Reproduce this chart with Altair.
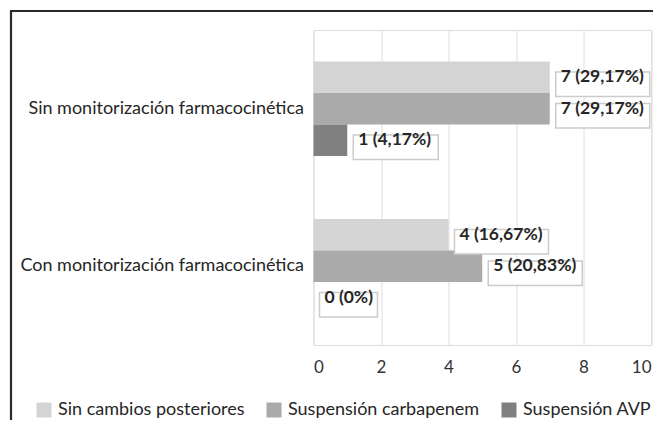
import altair as alt
import pandas as pd

categories = ["Sin monitorización farmacocinética", "Con monitorización farmacocinética"]
series = ["Sin cambios posteriores", "Suspensión carbapenem", "Suspensión AVP"]
values_sin = [7, 7, 1]
values_con = [4, 5, 0]
labels_sin = ["7 (29,17%)", "7 (29,17%)", "1 (4,17%)"]
labels_con = ["4 (16,67%)", "5 (20,83%)", "0 (0%)"]
colors = ["#d4d4d4", "#aaaaaa", "#808080"]
x_ticks = [0, 2, 4, 6, 8, 10]

rows = []
for cat, vals, labs in [(categories[0], values_sin, labels_sin), (categories[1], values_con, labels_con)]:
    for s, v, l in zip(series, vals, labs):
        rows.append({"grupo": cat, "serie": s, "valor": v, "etiqueta": l})
df = pd.DataFrame(rows)

W, H = 337.5, 315
PAD_L, PAD_T = 305.5, 22
TOTAL_W, TOTAL_H = 645, 412
PX_PER_UNIT = W / 10

xscale = alt.Scale(domain=[0, 10], nice=False, zero=True)

y_enc = alt.Y("grupo:N", sort=categories, title=None,
              scale=alt.Scale(paddingInner=0.4, paddingOuter=0.2),
              axis=alt.Axis(labelFont="Lato", labelFontSize=18, labelColor="#262626",
                            ticks=False, domain=False, labelPadding=10, grid=False,
                            labelLimit=400))
yoff = alt.YOffset("serie:N", sort=series, scale=alt.Scale(domain=series))
x_enc = alt.X("valor:Q", title=None, scale=xscale, stack=None,
              axis=alt.Axis(values=x_ticks, labelFont="Lato", labelFontSize=17,
                            labelColor="#333333", ticks=False, domain=False,
                            labelPadding=14, grid=True, gridColor="#dedede",
                            gridWidth=1))

base = alt.Chart(df)

bars = base.mark_bar(stroke=None).encode(
    x=x_enc,
    y=y_enc,
    yOffset=yoff,
    color=alt.Color("serie:N", sort=series,
                    scale=alt.Scale(domain=series, range=colors),
                    legend=alt.Legend(title=None, orient="none", direction="horizontal",
                                      legendX=-278.5, legendY=371,
                                      symbolType="square", symbolSize=225,
                                      symbolStrokeWidth=0, labelFont="Lato",
                                      labelFontSize=18, labelColor="#262626",
                                      labelOffset=5, columnPadding=20,
                                      labelLimit=300)),
)

boxes = base.transform_calculate(
    x0="datum.valor + 6 / " + str(PX_PER_UNIT),
    x1="datum.valor + (6 + 9 * length(datum.etiqueta) + 4) / " + str(PX_PER_UNIT),
).mark_bar(fill="white", stroke="#cccccc", strokeWidth=1.5, height={"band": 0.78}).encode(
    x=alt.X("x0:Q", scale=xscale),
    x2="x1:Q",
    y=alt.Y("grupo:N", sort=categories),
    yOffset=yoff,
)

texts = base.mark_text(align="left", baseline="middle", dx=11, font="Lato",
                       fontSize=17.5, fontWeight="bold", color="#262626").encode(
    x=alt.X("valor:Q", scale=xscale),
    y=alt.Y("grupo:N", sort=categories),
    yOffset=yoff,
    text="etiqueta:N",
)

frame = alt.Chart(pd.DataFrame({"a": [0]})).mark_rect(
    fill=None, stroke="#2a2a2a", strokeWidth=2.2
).encode(
    x=alt.value(-302.5), x2=alt.value(TOTAL_W - PAD_L + 6),
    y=alt.value(-19), y2=alt.value(TOTAL_H - PAD_T + 6),
)

chart = alt.layer(bars, boxes, texts, frame).properties(
    width=W, height=H,
    autosize=alt.AutoSizeParams(type="none"),
    padding={"left": PAD_L, "top": PAD_T,
             "right": TOTAL_W - PAD_L - W, "bottom": TOTAL_H - PAD_T - H},
).configure_view(stroke=None).configure(background="white")

chart.save("out.html", embed_options={"renderer": "svg", "actions": False})
